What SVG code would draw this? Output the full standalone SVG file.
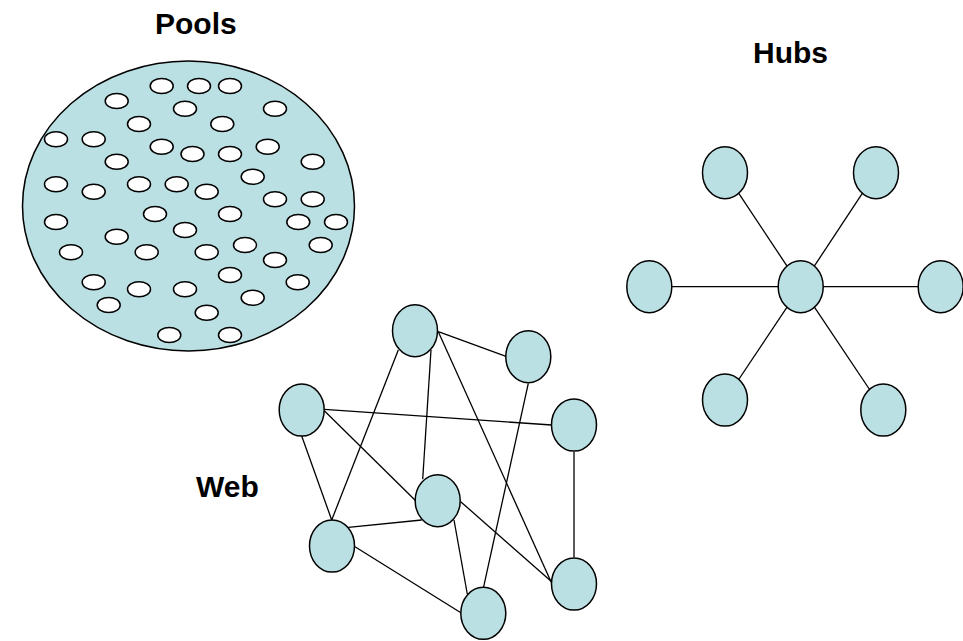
<svg xmlns="http://www.w3.org/2000/svg" width="963" height="641" viewBox="0 0 963 641">
  <style>
    .label { font-family: "Liberation Sans", Arial, sans-serif; font-weight: bold; font-size: 30px; fill: #000; }
    .node { fill: #BBE0E3; stroke: #000; stroke-width: 1.5; }
    .dot { fill: #fff; stroke: #000; stroke-width: 1.5; }
    .edge { stroke: #000; stroke-width: 1.3; fill: none; }
  </style>
  <rect width="963" height="641" fill="#fff"/>

  <!-- Pools: a large basin holding many small members -->
  <g id="pools">
    <ellipse class="node" cx="188.5" cy="206" rx="166" ry="145"/>
    <g id="pool-members">
      <ellipse class="dot" cx="161.7" cy="86" rx="11.5" ry="7.5"/>
      <ellipse class="dot" cx="199" cy="86" rx="11.5" ry="7.5"/>
      <ellipse class="dot" cx="230" cy="86" rx="11.5" ry="7.5"/>
      <ellipse class="dot" cx="116.7" cy="101" rx="11.5" ry="7.5"/>
      <ellipse class="dot" cx="185" cy="108.7" rx="11.5" ry="7.5"/>
      <ellipse class="dot" cx="275" cy="108.7" rx="11.5" ry="7.5"/>
      <ellipse class="dot" cx="139" cy="124" rx="11.5" ry="7.5"/>
      <ellipse class="dot" cx="222.3" cy="124" rx="11.5" ry="7.5"/>
      <ellipse class="dot" cx="56" cy="139.3" rx="11.5" ry="7.5"/>
      <ellipse class="dot" cx="93.7" cy="139.3" rx="11.5" ry="7.5"/>
      <ellipse class="dot" cx="161.7" cy="146.7" rx="11.5" ry="7.5"/>
      <ellipse class="dot" cx="192.5" cy="154" rx="11.5" ry="7.5"/>
      <ellipse class="dot" cx="230" cy="154" rx="11.5" ry="7.5"/>
      <ellipse class="dot" cx="267.7" cy="146.7" rx="11.5" ry="7.5"/>
      <ellipse class="dot" cx="116.7" cy="161.7" rx="11.5" ry="7.5"/>
      <ellipse class="dot" cx="312.7" cy="161.7" rx="11.5" ry="7.5"/>
      <ellipse class="dot" cx="56" cy="184.3" rx="11.5" ry="7.5"/>
      <ellipse class="dot" cx="93.7" cy="191.7" rx="11.5" ry="7.5"/>
      <ellipse class="dot" cx="139" cy="184.3" rx="11.5" ry="7.5"/>
      <ellipse class="dot" cx="176.7" cy="184.3" rx="11.5" ry="7.5"/>
      <ellipse class="dot" cx="206.7" cy="191.7" rx="11.5" ry="7.5"/>
      <ellipse class="dot" cx="252.7" cy="176.7" rx="11.5" ry="7.5"/>
      <ellipse class="dot" cx="275" cy="199.3" rx="11.5" ry="7.5"/>
      <ellipse class="dot" cx="312.7" cy="199.3" rx="11.5" ry="7.5"/>
      <ellipse class="dot" cx="56" cy="222" rx="11.5" ry="7.5"/>
      <ellipse class="dot" cx="155" cy="214" rx="11.5" ry="7.5"/>
      <ellipse class="dot" cx="230" cy="214" rx="11.5" ry="7.5"/>
      <ellipse class="dot" cx="185" cy="230" rx="11.5" ry="7.5"/>
      <ellipse class="dot" cx="298.3" cy="222" rx="11.5" ry="7.5"/>
      <ellipse class="dot" cx="336" cy="222" rx="11.5" ry="7.5"/>
      <ellipse class="dot" cx="116.7" cy="236.7" rx="11.5" ry="7.5"/>
      <ellipse class="dot" cx="245" cy="245" rx="11.5" ry="7.5"/>
      <ellipse class="dot" cx="320.7" cy="245" rx="11.5" ry="7.5"/>
      <ellipse class="dot" cx="71" cy="252.3" rx="11.5" ry="7.5"/>
      <ellipse class="dot" cx="146.7" cy="252.3" rx="11.5" ry="7.5"/>
      <ellipse class="dot" cx="206.7" cy="252.3" rx="11.5" ry="7.5"/>
      <ellipse class="dot" cx="275" cy="260" rx="11.5" ry="7.5"/>
      <ellipse class="dot" cx="93.7" cy="282.3" rx="11.5" ry="7.5"/>
      <ellipse class="dot" cx="139" cy="289.3" rx="11.5" ry="7.5"/>
      <ellipse class="dot" cx="185" cy="289.3" rx="11.5" ry="7.5"/>
      <ellipse class="dot" cx="230" cy="275" rx="11.5" ry="7.5"/>
      <ellipse class="dot" cx="297.7" cy="282.3" rx="11.5" ry="7.5"/>
      <ellipse class="dot" cx="108.7" cy="305" rx="11.5" ry="7.5"/>
      <ellipse class="dot" cx="206.7" cy="312.7" rx="11.5" ry="7.5"/>
      <ellipse class="dot" cx="252.7" cy="297.7" rx="11.5" ry="7.5"/>
      <ellipse class="dot" cx="169.3" cy="335" rx="11.5" ry="7.5"/>
      <ellipse class="dot" cx="230" cy="335" rx="11.5" ry="7.5"/>
    </g>
  </g>

  <!-- Labels -->
  <text class="label" x="155" y="34">Pools</text>
  <text class="label" x="753" y="63">Hubs</text>
  <text class="label" x="196" y="497">Web</text>

  <!-- Connectors -->
  <g id="connectors">
    <!-- web links -->
    <line class="edge" x1="438.3" y1="331.7" x2="506.7" y2="356.7"/>
    <line class="edge" x1="398.3" y1="350" x2="331.7" y2="520"/>
    <line class="edge" x1="431" y1="350" x2="422.7" y2="479.3"/>
    <line class="edge" x1="438.3" y1="331.7" x2="551.7" y2="583.3"/>
    <line class="edge" x1="528.3" y1="383.3" x2="483.3" y2="588.3"/>
    <line class="edge" x1="324.3" y1="409.3" x2="551.7" y2="425"/>
    <line class="edge" x1="324.3" y1="410.7" x2="415.7" y2="500.7"/>
    <line class="edge" x1="301.7" y1="436" x2="331.7" y2="520"/>
    <line class="edge" x1="574" y1="451.7" x2="574" y2="557.3"/>
    <line class="edge" x1="348.3" y1="527.3" x2="421.7" y2="520"/>
    <line class="edge" x1="460.7" y1="501.7" x2="551.7" y2="581.7"/>
    <line class="edge" x1="454" y1="520" x2="467.3" y2="594"/>
    <line class="edge" x1="355" y1="546.7" x2="461.7" y2="613.3"/>
    <!-- hub spokes -->
    <line class="edge" x1="725" y1="172.7" x2="800.7" y2="286.7"/>
    <line class="edge" x1="876" y1="172.7" x2="800.7" y2="286.7"/>
    <line class="edge" x1="649.3" y1="286.7" x2="800.7" y2="286.7"/>
    <line class="edge" x1="940.7" y1="286.7" x2="800.7" y2="286.7"/>
    <line class="edge" x1="725" y1="400" x2="800.7" y2="286.7"/>
    <line class="edge" x1="883.3" y1="410" x2="800.7" y2="286.7"/>
  </g>

  <!-- Web nodes -->
  <g id="web-a"><ellipse class="node" cx="415" cy="330.7" rx="22.5" ry="26"/></g>
  <g id="web-b"><ellipse class="node" cx="528.3" cy="356.7" rx="22.5" ry="26"/></g>
  <g id="web-c"><ellipse class="node" cx="301.7" cy="410" rx="22.5" ry="26"/></g>
  <g id="web-d"><ellipse class="node" cx="574" cy="425" rx="22.5" ry="26"/></g>
  <g id="web-e"><ellipse class="node" cx="437.7" cy="500.7" rx="22.5" ry="26"/></g>
  <g id="web-f"><ellipse class="node" cx="332" cy="546" rx="22.5" ry="26"/></g>
  <g id="web-g"><ellipse class="node" cx="574" cy="584" rx="22.5" ry="26"/></g>
  <g id="web-h"><ellipse class="node" cx="483.3" cy="613.3" rx="22.5" ry="26"/></g>

  <!-- Hub nodes -->
  <g id="hub-center"><ellipse class="node" cx="800.7" cy="286.7" rx="22.5" ry="26"/></g>
  <g id="hub-top-left"><ellipse class="node" cx="725" cy="172.7" rx="22.5" ry="26"/></g>
  <g id="hub-top-right"><ellipse class="node" cx="876" cy="172.7" rx="22.5" ry="26"/></g>
  <g id="hub-left"><ellipse class="node" cx="649.3" cy="286.7" rx="22.5" ry="26"/></g>
  <g id="hub-right"><ellipse class="node" cx="940.7" cy="286.7" rx="22.5" ry="26"/></g>
  <g id="hub-bottom-left"><ellipse class="node" cx="725" cy="400" rx="22.5" ry="26"/></g>
  <g id="hub-bottom-right"><ellipse class="node" cx="883.3" cy="410" rx="22.5" ry="26"/></g>
</svg>
